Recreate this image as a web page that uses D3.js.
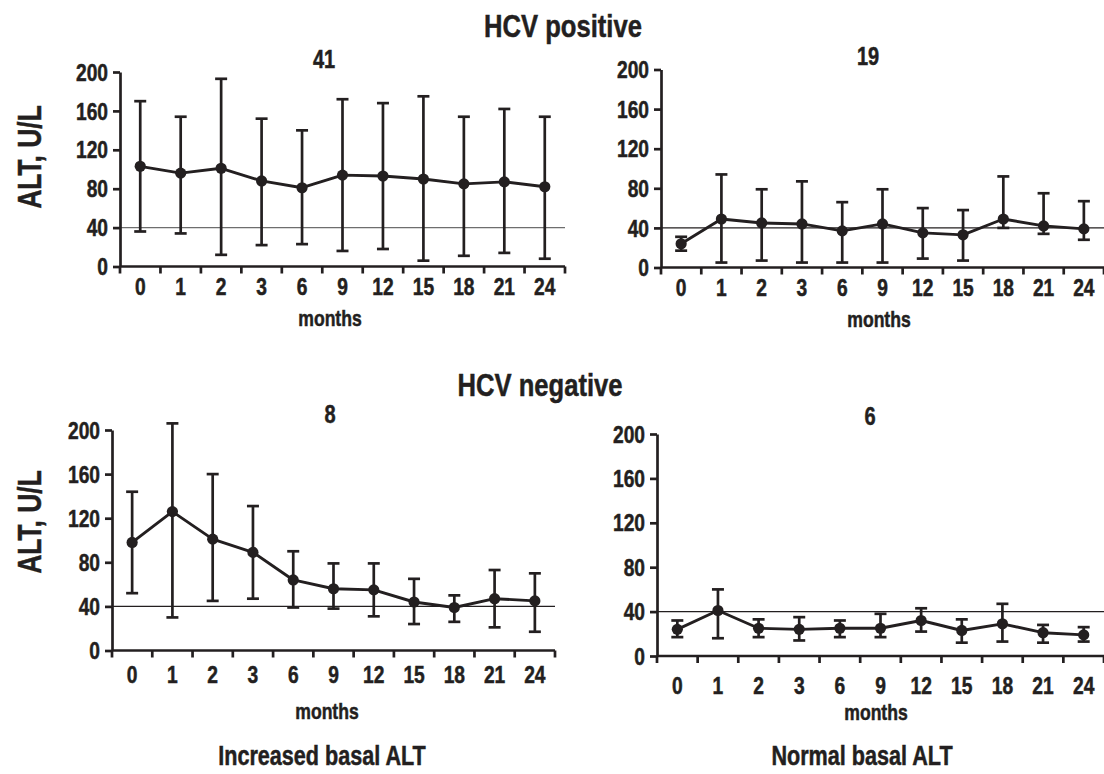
<!DOCTYPE html>
<html><head><meta charset="utf-8">
<script src="https://cdn.jsdelivr.net/npm/d3@7"></script>
<style>
body{margin:0;background:#fff}
svg{display:block}
text{font-family:"Liberation Sans",Arial,sans-serif;font-weight:bold;fill:#231f20;stroke:#231f20;stroke-width:0.5px}
</style></head>
<body><svg id="c" width="1104" height="774"></svg>
<script>
// ---------- data ----------
const months = ["0","1","2","3","6","9","12","15","18","21","24"];
const yTicks = [0, 40, 80, 120, 160, 200];
const normalLimit = 40;

// HCV positive, increased basal ALT (n = 41)
const posIncMean  = [103, 96, 101, 88, 81, 94, 93, 90, 85, 87, 82];
const posIncUpper = [170, 154, 193, 152, 140, 172, 168, 175, 154, 162, 154];
const posIncLower = [36, 34, 12, 22, 23, 16, 18, 6, 11, 14, 8];

// HCV positive, normal basal ALT (n = 19)
const posNorMean  = [24, 49, 45, 44, 37, 44, 35, 33, 49, 42, 39];
const posNorUpper = [31, 94, 79, 87, 66, 79, 60, 58, 92, 75, 67];
const posNorLower = [17, 5, 7, 5, 5, 5, 9, 7, 40, 34, 28];

// HCV negative, increased basal ALT (n = 8)
const negIncMean  = [98, 126, 101, 89, 64, 56, 55, 44, 39, 47, 45];
const negIncUpper = [144, 206, 160, 131, 90, 79, 79, 65, 50, 73, 70];
const negIncLower = [52, 30, 45, 47, 39, 38, 31, 24, 26, 21, 17];

// HCV negative, normal basal ALT (n = 6)
const negNorMean  = [24, 41, 25, 24, 25, 25, 32, 23, 29, 21, 19];
const negNorUpper = [32, 60, 33, 35, 32, 38, 43, 33, 47, 28, 26];
const negNorLower = [17, 16, 17, 14, 17, 17, 22, 12, 13, 12, 13];

const groupCounts = ["41", "19", "8", "6"];
const rowTitles = ["HCV positive", "HCV negative"];
const colTitles = ["Increased basal ALT", "Normal basal ALT"];
const yTitle = "ALT, U/L";
const xTitle = "months";

// ---------- layout ----------
const INK = "#231f20";
const SX = 0.8; // condensed type
const svg = d3.select("#c");

function label(x, y, str, size, anchor, rot, sx) {
  svg.append("text")
    .attr("transform", `translate(${x},${y})${rot ? ` rotate(${rot})` : ""} scale(${sx || SX},1)`)
    .attr("text-anchor", anchor || "middle")
    .attr("font-size", size)
    .text(str);
}

const panels = [
  {mean: posIncMean, up: posIncUpper, lo: posIncLower, n: groupCounts[0],
   x0: 120, x1: 565, yTop: 72, yBot: 266.5, nx: 324, ny: 68, ylab: 157, refColor: "#6e6e6e",
   tickY: 28, monthsX: 330, monthsY: 326},
  {mean: posNorMean, up: posNorUpper, lo: posNorLower, n: groupCounts[1],
   x0: 661, x1: 1104, yTop: 69.5, yBot: 267.5, nx: 868, ny: 65, ylab: null, refColor: INK,
   tickY: 28, monthsX: 879, monthsY: 327},
  {mean: negIncMean, up: negIncUpper, lo: negIncLower, n: groupCounts[2],
   x0: 112, x1: 555, yTop: 430, yBot: 650.5, nx: 330, ny: 423, ylab: 522, refColor: INK,
   tickY: 32, monthsX: 327, monthsY: 719},
  {mean: negNorMean, up: negNorUpper, lo: negNorLower, n: groupCounts[3],
   x0: 657, x1: 1104, yTop: 434, yBot: 656, nx: 870, ny: 425, ylab: null, refColor: INK,
   tickY: 38, monthsX: 876, monthsY: 720}
];

panels.forEach(p => {
  const x = d3.scaleBand().domain(months).range([p.x0, p.x1]);
  const y = d3.scaleLinear().domain([0, 200]).range([p.yBot, p.yTop]);
  const cx = m => x(m) + x.bandwidth() / 2;
  const g = svg.append("g");

  // normal limit reference line
  g.append("line")
    .attr("x1", p.x0).attr("x2", p.x1)
    .attr("y1", y(normalLimit)).attr("y2", y(normalLimit))
    .attr("stroke", p.refColor).attr("stroke-width", 1.2);

  // y axis
  const ya = g.append("g").attr("transform", `translate(${p.x0},0)`)
    .call(d3.axisLeft(y).tickValues(yTicks).tickSize(7).tickSizeOuter(0).tickFormat(""));
  ya.selectAll("path,line").attr("stroke", INK).attr("stroke-width", 2.7);
  yTicks.forEach(v => label(p.x0 - 12, y(v) + 8.6, String(v), 24, "end"));

  // x axis
  g.append("line").attr("x1", p.x0).attr("x2", p.x1)
    .attr("y1", y(0)).attr("y2", y(0))
    .attr("stroke", INK).attr("stroke-width", 2.7);
  const bounds = months.map(m => x(m)).concat([x.range()[1]]);
  g.selectAll(".xt").data(bounds).enter().append("line")
    .attr("x1", d => d).attr("x2", d => d)
    .attr("y1", y(0)).attr("y2", y(0) + 7)
    .attr("stroke", INK).attr("stroke-width", 2.7);
  months.forEach(m => label(cx(m), y(0) + p.tickY, m, 24, "middle"));

  // error bars
  const cap = 6;
  months.forEach((m, i) => {
    const xx = cx(m);
    g.append("line").attr("x1", xx).attr("x2", xx)
      .attr("y1", y(p.lo[i])).attr("y2", y(p.up[i]))
      .attr("stroke", INK).attr("stroke-width", 2.7);
    [p.lo[i], p.up[i]].forEach(v => {
      g.append("line").attr("x1", xx - cap).attr("x2", xx + cap)
        .attr("y1", y(v)).attr("y2", y(v))
        .attr("stroke", INK).attr("stroke-width", 2.7);
    });
  });

  // mean line
  g.append("path")
    .datum(p.mean)
    .attr("fill", "none").attr("stroke", INK).attr("stroke-width", 2.9)
    .attr("stroke-linejoin", "round")
    .attr("d", d3.line().x((d, i) => cx(months[i])).y(d => y(d)));

  // points
  g.selectAll(".pt").data(p.mean).enter().append("circle")
    .attr("cx", (d, i) => cx(months[i])).attr("cy", d => y(d))
    .attr("r", 5.6).attr("fill", INK);

  // labels
  label(p.nx, p.ny, p.n, 25, "middle");
  label(p.monthsX, p.monthsY, xTitle, 22, "middle");
  if (p.ylab !== null) label(41, p.ylab, yTitle, 33, "middle", -90);
});

label(563, 37, rowTitles[0], 32, "middle");
label(540, 396, rowTitles[1], 32, "middle");
label(322, 765, colTitles[0], 27, "middle");
label(862, 765, colTitles[1], 27, "middle");
</script>
</body></html>
